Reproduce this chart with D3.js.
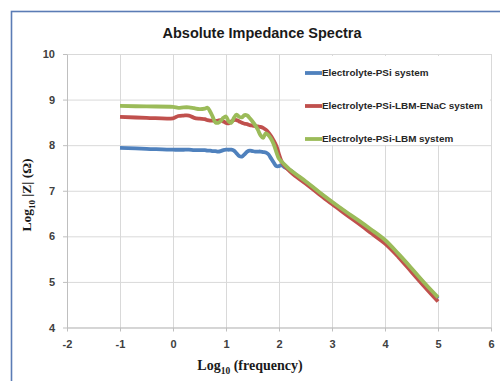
<!DOCTYPE html>
<html>
<head>
<meta charset="utf-8">
<script src="https://cdn.jsdelivr.net/npm/d3@7"></script>
<style>
  body { margin: 0; background: #fff; }
  svg { display: block; }
  .tick text { font-family: "Liberation Sans", Arial, sans-serif; font-weight: bold; font-size: 11px; fill: #404040; }
</style>
</head>
<body>
<div id="chart"></div>
<script>
// log10(frequency) sampling shared by the three spectra
const logFreq = [-1, -0.5, 0, 0.1, 0.2, 0.3, 0.4, 0.5, 0.6, 0.65, 0.7, 0.75, 0.8, 0.85, 0.9, 0.95,
  1.0, 1.05, 1.1, 1.15, 1.2, 1.25, 1.3, 1.35, 1.4, 1.45, 1.5, 1.55, 1.6, 1.65, 1.7, 1.75, 1.8,
  1.85, 1.9, 1.95, 2.0, 2.05, 2.1, 2.2, 2.3, 2.5, 2.75, 3.0, 3.25, 3.5, 3.75, 4.0, 4.25, 4.5, 4.75, 5.0];

const psi = [7.94, 7.92, 7.90, 7.90, 7.90, 7.90, 7.89, 7.89, 7.89, 7.88, 7.88, 7.87, 7.87, 7.86, 7.87, 7.89,
  7.90, 7.90, 7.90, 7.88, 7.82, 7.76, 7.75, 7.80, 7.86, 7.88, 7.87, 7.86, 7.86, 7.86, 7.85, 7.84, 7.80,
  7.71, 7.62, 7.54, 7.54, 7.56, 7.52, 7.46, 7.37, 7.19, 6.96, 6.74, 6.53, 6.33, 6.12, 5.90, 5.60, 5.28, 4.95, 4.64];

const psiEnac = [8.62, 8.60, 8.59, 8.64, 8.65, 8.65, 8.60, 8.58, 8.57, 8.55, 8.54, 8.54, 8.53, 8.54, 8.55, 8.52,
  8.49, 8.48, 8.52, 8.55, 8.55, 8.52, 8.49, 8.47, 8.46, 8.44, 8.43, 8.42, 8.41, 8.40, 8.38, 8.34, 8.28,
  8.20, 8.10, 7.98, 7.80, 7.64, 7.55, 7.43, 7.33, 7.16, 6.93, 6.71, 6.49, 6.28, 6.06, 5.84, 5.55, 5.22, 4.89, 4.57];

const psiLbm = [8.86, 8.85, 8.84, 8.82, 8.83, 8.83, 8.81, 8.79, 8.80, 8.82, 8.74, 8.62, 8.50, 8.49, 8.53, 8.60,
  8.63, 8.52, 8.49, 8.60, 8.67, 8.62, 8.61, 8.66, 8.65, 8.59, 8.52, 8.44, 8.34, 8.22, 8.16, 8.26, 8.22,
  8.14, 8.02, 7.85, 7.70, 7.64, 7.58, 7.47, 7.38, 7.21, 6.98, 6.76, 6.55, 6.35, 6.14, 5.92, 5.62, 5.30, 4.97, 4.66];

const seriesNames = ["Electrolyte-PSi system", "Electrolyte-PSi-LBM-ENaC system", "Electrolyte-PSi-LBM system"];
const seriesColors = ["#4f81bd", "#c0504d", "#9bbb59"];
const xTicks = [-2, -1, 0, 1, 2, 3, 4, 5, 6];
const yTicks = [4, 5, 6, 7, 8, 9, 10];

const width = 500, height = 381;
const plot = { left: 67, right: 491, top: 54, bottom: 327.5 };

const svg = d3.select("#chart").append("svg")
  .attr("width", width)
  .attr("height", height);

// chart frame
svg.append("rect")
  .attr("x", 11.5).attr("y", 11.5)
  .attr("width", 500).attr("height", 400)
  .attr("fill", "#fff")
  .attr("stroke", "#5b7cb5")
  .attr("stroke-width", 1.6);

const x = d3.scaleLinear().domain([-2, 6]).range([plot.left, plot.right]);
const y = d3.scaleLinear().domain([4, 10]).range([plot.bottom, plot.top]);

// grid
svg.append("g")
  .attr("transform", `translate(0,${plot.bottom})`)
  .call(d3.axisBottom(x).tickValues(xTicks).tickSize(-(plot.bottom - plot.top)).tickFormat(""))
  .call(g => g.select(".domain").remove())
  .call(g => g.selectAll("line").attr("stroke", "#d9d9d9"));

svg.append("g")
  .attr("transform", `translate(${plot.left},0)`)
  .call(d3.axisLeft(y).tickValues(yTicks).tickSize(-(plot.right - plot.left)).tickFormat(""))
  .call(g => g.select(".domain").remove())
  .call(g => g.selectAll("line").attr("stroke", "#d9d9d9"));

// axes with labels
svg.append("g")
  .attr("transform", `translate(0,${plot.bottom})`)
  .call(d3.axisBottom(x).tickValues(xTicks).tickSize(4).tickSizeOuter(0).tickPadding(9).tickFormat(d => String(d)))
  .call(g => g.select(".domain").attr("stroke", "#bfbfbf"))
  .call(g => g.selectAll(".tick line").attr("stroke", "#bfbfbf"));

svg.append("g")
  .attr("transform", `translate(${plot.left},0)`)
  .call(d3.axisLeft(y).tickValues(yTicks).tickSize(4).tickSizeOuter(0).tickPadding(8).tickFormat(d => String(d)))
  .call(g => g.select(".domain").attr("stroke", "#bfbfbf"))
  .call(g => g.selectAll(".tick line").attr("stroke", "#bfbfbf"));

// legend backdrop hides the grid behind it
svg.append("rect")
  .attr("x", 300).attr("y", 56)
  .attr("width", 190).attr("height", 89)
  .attr("fill", "#fff");

const line = d3.line()
  .x((d, i) => x(logFreq[i]))
  .y(d => y(d))
  .curve(d3.curveCatmullRom.alpha(0.5));

[psi, psiEnac, psiLbm].forEach((vals, i) => {
  svg.append("path")
    .datum(vals)
    .attr("fill", "none")
    .attr("stroke", seriesColors[i])
    .attr("stroke-width", 3.8)
    .attr("stroke-linejoin", "round")
    .attr("d", line);
});

// legend
const legendY = [73, 106, 139];
seriesNames.forEach((name, i) => {
  svg.append("line")
    .attr("x1", 305).attr("x2", 322)
    .attr("y1", legendY[i]).attr("y2", legendY[i])
    .attr("stroke", seriesColors[i])
    .attr("stroke-width", 3.8);
  svg.append("text")
    .attr("x", 322).attr("y", legendY[i])
    .attr("dy", "0.35em")
    .style("font-family", "'Liberation Sans', Arial, sans-serif")
    .style("font-weight", "bold")
    .style("font-size", "9.9px")
    .style("fill", "#262626")
    .text(name);
});

// title
svg.append("text")
  .attr("x", 262).attr("y", 38)
  .attr("text-anchor", "middle")
  .style("font-family", "'Liberation Sans', Arial, sans-serif")
  .style("font-weight", "bold")
  .style("font-size", "14.5px")
  .style("fill", "#1a1a1a")
  .text("Absolute Impedance Spectra");

// x axis label
const xl = svg.append("text")
  .attr("x", 250).attr("y", 370)
  .attr("text-anchor", "middle")
  .style("font-family", "'Liberation Serif', 'Times New Roman', serif")
  .style("font-weight", "bold")
  .style("font-size", "14px")
  .style("fill", "#1a1a1a");
xl.append("tspan").text("Log");
xl.append("tspan").attr("dy", 4).style("font-size", "9.5px").text("10");
xl.append("tspan").attr("dy", -4).text(" (frequency)");

// y axis label
const yl = svg.append("text")
  .attr("transform", "translate(31,195) rotate(-90)")
  .attr("text-anchor", "middle")
  .style("font-family", "'Liberation Serif', 'Times New Roman', serif")
  .style("font-weight", "bold")
  .style("font-size", "13.5px")
  .style("fill", "#1a1a1a");
yl.append("tspan").text("Log");
yl.append("tspan").attr("dy", 4).style("font-size", "9px").text("10");
yl.append("tspan").attr("dy", -4).text(" |Z| (Ω)");
</script>
</body>
</html>
